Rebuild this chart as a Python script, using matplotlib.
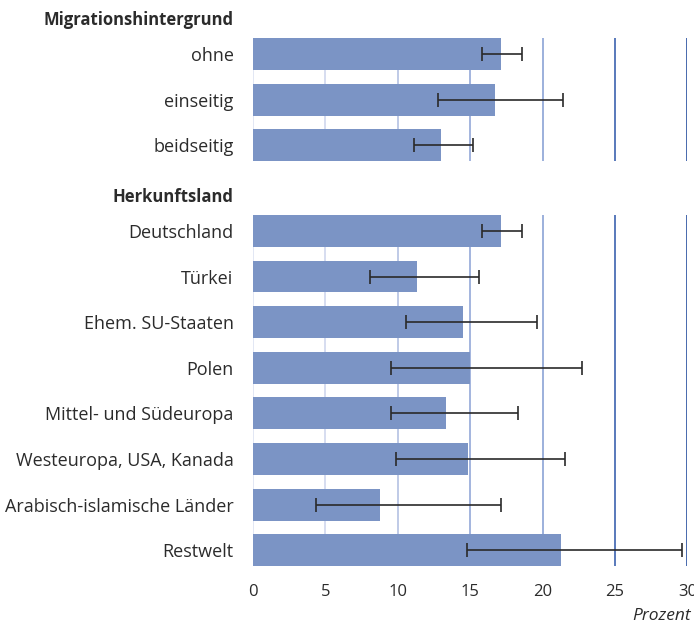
import matplotlib
matplotlib.use("Agg")
import matplotlib.pyplot as plt
import numpy as np

plt.rcParams['font.family'] = ['Open Sans', 'DejaVu Sans']

# Data
group1_title = "Migrationshintergrund"
group1_cats = ["ohne", "einseitig", "beidseitig"]
group1_vals = [17.1, 16.7, 13.0]
group1_lo = [15.8, 12.8, 11.1]
group1_hi = [18.6, 21.4, 15.2]

group2_title = "Herkunftsland"
group2_cats = ["Deutschland", "Türkei", "Ehem. SU-Staaten", "Polen",
               "Mittel- und Südeuropa", "Westeuropa, USA, Kanada",
               "Arabisch-islamische Länder", "Restwelt"]
group2_vals = [17.1, 11.3, 14.5, 15.0, 13.3, 14.85, 8.8, 21.3]
group2_lo = [15.8, 8.1, 10.55, 9.55, 9.55, 9.9, 4.35, 14.8]
group2_hi = [18.6, 15.6, 19.6, 22.75, 18.3, 21.55, 17.1, 29.6]

xticks = [0, 5, 10, 15, 20, 25, 30]
xlabel = "Prozent"

bar_color = "#7b94c5"
grid_colors = ["#e2e7f4", "#d6ddf0", "#bfcae7", "#a3b4de", "#9cb0dc", "#5879bb", "#4769ad"]
text_color = "#2b2b2b"

fig = plt.figure(figsize=(6.94, 6.27), dpi=100)
left, width = 0.3646, 0.6258
ax1 = fig.add_axes([left, 0.732, width, 0.2185])
ax2 = fig.add_axes([left, 0.0861, width, 0.582])

def draw(ax, title, cats, vals, lo, hi, show_x):
    n = len(cats)
    y = np.arange(n)
    vals = np.array(vals)
    xerr = np.vstack([vals - np.array(lo), np.array(hi) - vals])
    for xv, c in zip(xticks, grid_colors):
        ax.vlines(xv, -0.35, n - 1 + 0.35, color=c, lw=1.4, zorder=0)
    ax.barh(y, vals, height=0.7, color=bar_color, zorder=2)
    ax.errorbar(vals, y, xerr=xerr, fmt='none', ecolor="#2a2a2a",
                elinewidth=1.2, capsize=5, capthick=1.2, zorder=3)
    ax.set_xlim(0, 30)
    ax.set_ylim(n - 0.5, -0.5)
    ax.set_yticks(y)
    ax.set_yticklabels(cats, fontsize=13, color=text_color)
    ax.tick_params(axis='y', length=0, pad=14)
    for s in ax.spines.values():
        s.set_visible(False)
    ax.text(-20 / 14.47, -0.75, title, ha='right', va='center', fontsize=12,
            fontweight='bold', color=text_color,
            transform=ax.transData, clip_on=False)
    if show_x:
        ax.set_xticks(xticks)
        ax.set_xticklabels([str(t) for t in xticks], fontsize=12, color=text_color)
        ax.tick_params(axis='x', length=0, pad=8)
    else:
        ax.set_xticks([])

draw(ax1, group1_title, group1_cats, group1_vals, group1_lo, group1_hi, False)
draw(ax2, group2_title, group2_cats, group2_vals, group2_lo, group2_hi, True)

fig.text(0.995, 0.004, xlabel, ha='right', va='bottom', fontsize=12.5,
         style='italic', color=text_color)

fig.savefig("out.png", dpi=100)
